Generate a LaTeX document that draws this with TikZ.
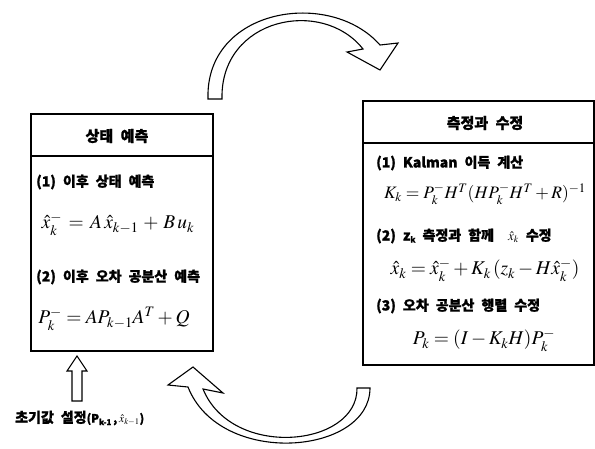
\documentclass[tikz,border=0pt]{standalone}
\usepackage{mathptmx}
\usepackage[no-math]{fontspec}
\setmainfont{Liberation Serif}
\newfontfamily\kr{Noto Sans CJK KR}[WordSpace=2.2, BoldFeatures={FakeBold=1.2}]
\begin{document}
\begin{tikzpicture}[x=1pt,y=-1pt,
 box/.style={draw, line width=1.5pt, inner sep=0},
 sepline/.style={line width=1.4pt},
 hdr/.style={inner sep=0, font=\kr\bfseries\fontsize{15}{17}\selectfont},
 lbl/.style={anchor=west, inner sep=0, font=\kr\bfseries\fontsize{14}{16}\selectfont},
 eq/.style={inner sep=0, font=\fontsize{19.5}{22}\selectfont},
 harrow/.style={draw, line width=1.1pt, fill=white, line join=miter}]
\useasboundingbox (0,0) rectangle (595,448);
% boxes
\node[box, anchor=north west, minimum width=182pt, minimum height=237pt] (lbox) at (30,113) {};
\coordinate (lsep) at (30,156);
\draw[sepline] (lsep) -- (lsep -| lbox.east);
\node[box, anchor=north west, minimum width=231pt, minimum height=264pt] (rbox) at (362,100) {};
\coordinate (rsep) at (362,143);
\draw[sepline] (rsep) -- (rsep -| rbox.east);
% left texts
\node[hdr] (lh) at (117,136) {상태 예측};
\node[lbl] (l1) at (36,182) {(1) 이후 상태 예측};
\node[eq] (e1) at (118,224) {$\hat{x}_k^-\, =\, A\,\hat{x}_{k-1}\,+\,B\,u_k$};
\node[lbl] (l2) at (36,277) {(2) 이후 오차 공분산 예측};
\node[eq] (e2) at (114,319) {$P_k^- = AP_{k-1}A^T+Q$};
% right texts
\node[hdr] (rh) at (485,123) {측정과 수정};
\node[lbl] (r1) at (376,163) {(1) Kalman 이득 계산};
\node[eq, anchor=west, font=\fontsize{17.5}{20}\selectfont] (e3) at (384,194) {$K_k = P_k^- H^T (HP_k^- H^T + R)^{-1}$};
\node[lbl] (r2) at (376,236) {(2) z\raisebox{-2pt}{\fontsize{8}{9}\selectfont k} 측정과 함께 \ {\fontsize{13}{14}\selectfont$\hat{x}_k$} 수정};
\node[eq] (e4) at (485,270) {$\hat{x}_k = \hat{x}_k^- + K_k\,(z_k - H\hat{x}_k^-)$};
\node[lbl] (r3) at (376,306) {(3) 오차 공분산 행렬 수정};
\node[eq] (e5) at (484,340) {$P_k = (I-K_kH)P_k^-$};
% initial value
\node[lbl] (init) at (15,418) {초기값 설정{\fontsize{11.5}{13}\selectfont(P\raisebox{-2.5pt}{\fontsize{8}{9}\selectfont k-1}\,,\,$\hat{x}_{k-1}$)}};
\coordinate (ua) at (77,356);
\draw[harrow] (ua) -- ++(10,15) -- ++(-5,0) -- ++(0,30) -- ++(-10,0) -- ++(0,-30) -- ++(-5,0) -- cycle;
% curved arrows
\coordinate (ta) at (208,99);
\draw[harrow] (ta) .. controls (205,8) and (330,-12) .. (380,45) -- (398,43) -- (380,70) -- (347,52) -- (363,49) .. controls (322,-3) and (220,18) .. (222,99) -- cycle;
\coordinate (ba) at (370,388);
\draw[harrow] (ba) .. controls (370,455) and (220,468) .. (188,387) -- (168,385) -- (193,367) -- (223,393) -- (203,389) .. controls (232,460) and (358,447) .. (357,388) -- cycle;
\end{tikzpicture}
\end{document}
